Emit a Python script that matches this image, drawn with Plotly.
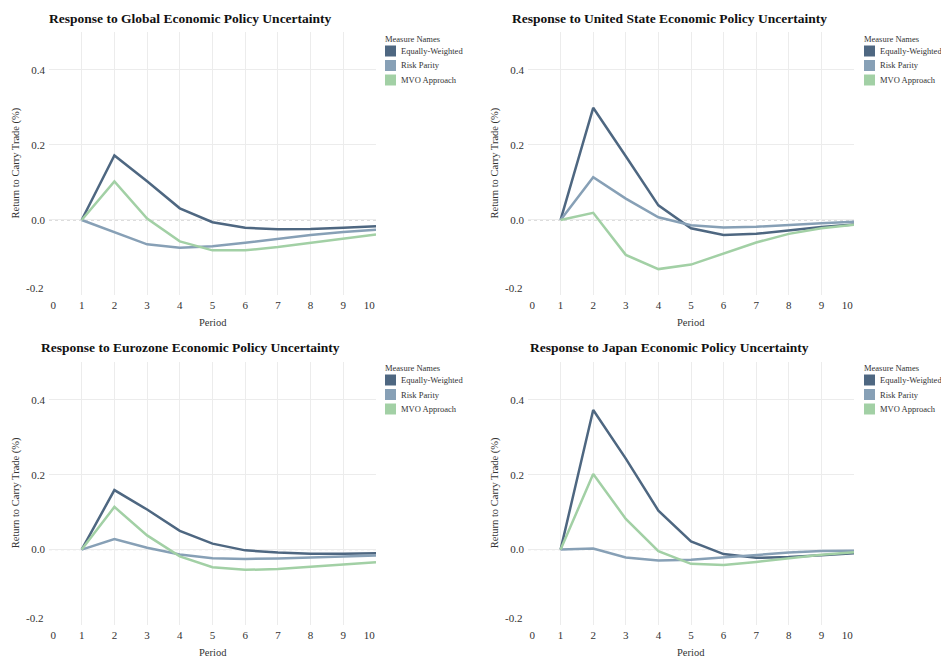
import plotly.graph_objects as go

# ---- data -------------------------------------------------------------
periods = [1, 2, 3, 4, 5, 6, 7, 8, 9, 10]
series_names = ["Equally-Weighted", "Risk Parity", "MVO Approach"]

panel_titles = [
    "Response to Global Economic Policy Uncertainty",
    "Response to United State Economic Policy Uncertainty",
    "Response to Eurozone Economic Policy Uncertainty",
    "Response to Japan Economic Policy Uncertainty",
]

global_ew = [0.0, 0.172, 0.103, 0.031, -0.006, -0.021, -0.025, -0.024, -0.021, -0.017]
global_rp = [0.0, -0.033, -0.065, -0.074, -0.070, -0.061, -0.050, -0.040, -0.032, -0.026]
global_mvo = [0.0, 0.103, 0.004, -0.057, -0.081, -0.081, -0.072, -0.061, -0.050, -0.039]

us_ew = [0.0, 0.299, 0.170, 0.039, -0.022, -0.040, -0.037, -0.028, -0.019, -0.012]
us_rp = [0.0, 0.114, 0.057, 0.007, -0.014, -0.020, -0.018, -0.013, -0.009, -0.005]
us_mvo = [0.0, 0.019, -0.093, -0.131, -0.119, -0.090, -0.060, -0.037, -0.022, -0.013]

euro_ew = [0.0, 0.159, 0.107, 0.050, 0.016, -0.002, -0.008, -0.011, -0.011, -0.010]
euro_rp = [0.0, 0.028, 0.005, -0.013, -0.023, -0.025, -0.024, -0.021, -0.019, -0.016]
euro_mvo = [0.0, 0.114, 0.038, -0.018, -0.047, -0.054, -0.052, -0.046, -0.040, -0.034]

japan_ew = [0.0, 0.373, 0.243, 0.104, 0.022, -0.012, -0.022, -0.020, -0.015, -0.010]
japan_rp = [0.0, 0.003, -0.021, -0.029, -0.027, -0.020, -0.013, -0.008, -0.004, -0.003]
japan_mvo = [0.0, 0.202, 0.082, -0.004, -0.038, -0.041, -0.033, -0.023, -0.014, -0.007]

panel_series = [
    [global_ew, global_rp, global_mvo],
    [us_ew, us_rp, us_mvo],
    [euro_ew, euro_rp, euro_mvo],
    [japan_ew, japan_rp, japan_mvo],
]

x_ticks = [0, 1, 2, 3, 4, 5, 6, 7, 8, 9, 10]
y_ticks = [-0.2, 0.0, 0.2, 0.4]
y_tick_text = ["-0.2", "0.0", "0.2", "0.4"]

# ---- styling ------------------------------------------------------------
W, H = 941, 657
FONT = "Liberation Serif"
series_colors = ["#4e6781", "#87a0b6", "#a2d0a5"]
grid_color = "#ececec"
text_color = "#333333"
TICK_SIZE = 11
NBSP = "\u00a0"

# panel boxes in pixels: (left, right, top, bottom)
col_x = [(49, 376), (528, 854)]
row_y = [(32, 295), (362, 624.5)]
title_cx = [190, 669]
title_cy = [18, 347]
ytitle_x = [16, 495]
legend_left = [383, 862]
legend_top = [39, 368]


def px_x(v):
    return v / W


def px_y(v):
    return 1 - v / H


# first / last period labels are padded so they sit inside the frame edges
x_tick_text = [str(t) for t in x_ticks]
x_tick_text[0] = NBSP * 3 + x_tick_text[0]
x_tick_text[-1] = x_tick_text[-1] + NBSP * 5

fig = go.Figure()
layout = dict(
    width=W,
    height=H,
    margin=dict(l=0, r=0, t=0, b=0, pad=0, autoexpand=False),
    paper_bgcolor="white",
    plot_bgcolor="white",
    showlegend=False,
    font=dict(family=FONT, color=text_color, size=10),
)
annotations = []
shapes = []
tick_font = dict(family=FONT, size=TICK_SIZE, color=text_color)

for i in range(4):
    r, c = divmod(i, 2)
    n = i + 1
    xa = "x" if n == 1 else f"x{n}"
    ya = "y" if n == 1 else f"y{n}"
    xkey = "xaxis" if n == 1 else f"xaxis{n}"
    ykey = "yaxis" if n == 1 else f"yaxis{n}"
    left, right = col_x[c]
    top, bottom = row_y[r]

    layout[xkey] = dict(
        domain=[px_x(left), px_x(right)],
        anchor=ya,
        range=[0, 10],
        tickvals=x_ticks,
        ticktext=x_tick_text,
        showgrid=True,
        gridcolor=grid_color,
        gridwidth=1,
        zeroline=False,
        showline=False,
        ticks="",
        ticklabelstandoff=2,
        automargin=False,
        tickfont=tick_font,
        fixedrange=True,
    )
    layout[ykey] = dict(
        domain=[px_y(bottom), px_y(top)],
        anchor=xa,
        range=[-0.2, 0.501],
        tickvals=y_ticks,
        ticktext=[""] + y_tick_text[1:],
        showgrid=True,
        gridcolor=grid_color,
        gridwidth=1,
        zeroline=False,
        showline=False,
        ticks="",
        ticklabelstandoff=3,
        automargin=False,
        tickfont=tick_font,
        fixedrange=True,
    )

    # lowest value label is lifted so it stays above the period labels
    annotations.append(dict(
        text=y_tick_text[0], xref=f"{xa} domain", yref=ya,
        x=0, y=y_ticks[0], xanchor="right", yanchor="middle",
        xshift=-4, yshift=7, showarrow=False, font=tick_font,
    ))

    # dotted reference line at zero
    shapes.append(dict(
        type="line", xref=f"{xa} domain", yref=ya,
        x0=0, x1=1, y0=0, y1=0,
        line=dict(color="#b5b5b5", width=1, dash="dot"),
        layer="below",
    ))

    for name, vals, col in zip(series_names, panel_series[i], series_colors):
        fig.add_trace(go.Scatter(
            x=periods, y=vals, name=name, mode="lines",
            line=dict(color=col, width=2.5),
            xaxis=xa, yaxis=ya,
        ))

    # panel title
    annotations.append(dict(
        text=f"<b>{panel_titles[i]}</b>", xref="paper", yref="paper",
        x=px_x(title_cx[c]), y=px_y(title_cy[r]),
        xanchor="center", yanchor="middle", showarrow=False,
        font=dict(family=FONT, size=13.5, color="#111111"),
    ))
    # axis titles
    annotations.append(dict(
        text="Period", xref="paper", yref="paper",
        x=px_x((left + right) / 2), y=px_y(bottom + 28),
        xanchor="center", yanchor="middle", showarrow=False,
        font=dict(family=FONT, size=10.5, color=text_color),
    ))
    annotations.append(dict(
        text="Return to Carry Trade (%)", xref="paper", yref="paper",
        x=px_x(ytitle_x[c]), y=px_y((top + bottom) / 2),
        xanchor="center", yanchor="middle", showarrow=False, textangle=-90,
        font=dict(family=FONT, size=10.5, color=text_color),
    ))

    # colour legend
    lx, ly = legend_left[c], legend_top[r]
    annotations.append(dict(
        text="Measure Names", xref="paper", yref="paper",
        x=px_x(lx), y=px_y(ly), xanchor="left", yanchor="middle",
        showarrow=False, font=dict(family=FONT, size=8.5, color="#333333"),
    ))
    for k, (name, col) in enumerate(zip(series_names, series_colors)):
        cy = ly + 12 + k * 14.5
        shapes.append(dict(
            type="rect", xref="paper", yref="paper",
            x0=px_x(lx + 2), x1=px_x(lx + 13),
            y0=px_y(cy + 5.5), y1=px_y(cy - 5.5),
            fillcolor=col, line=dict(width=0),
        ))
        annotations.append(dict(
            text=name, xref="paper", yref="paper",
            x=px_x(lx + 16), y=px_y(cy), xanchor="left", yanchor="middle",
            showarrow=False, font=dict(family=FONT, size=8.5, color="#333333"),
        ))

layout["annotations"] = annotations
layout["shapes"] = shapes
fig.update_layout(**layout)

fig.write_html("out.html")
